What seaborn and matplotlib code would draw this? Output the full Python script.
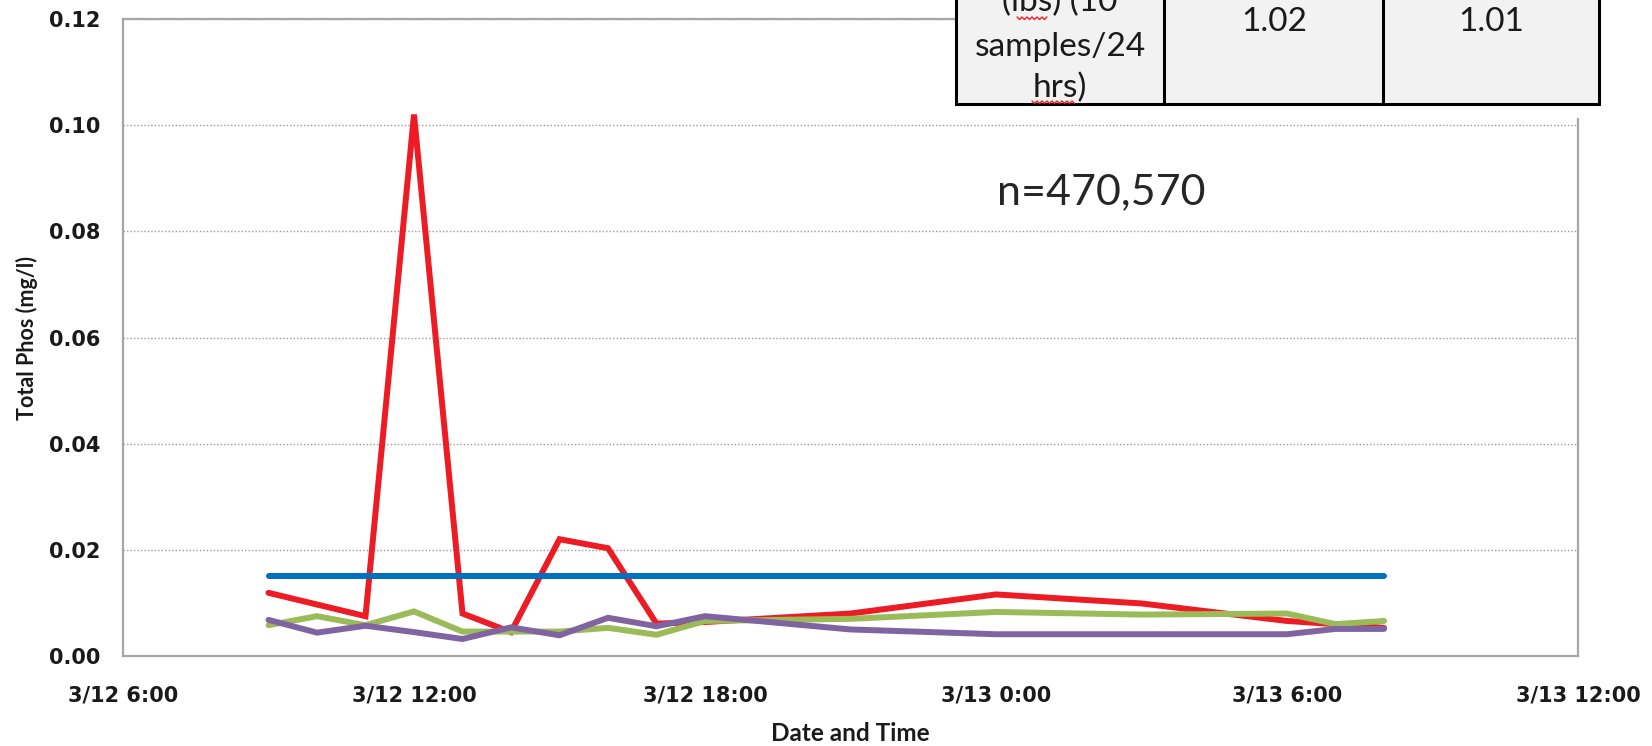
import numpy as np
import pandas as pd
import matplotlib
matplotlib.use("Agg")
import matplotlib.pyplot as plt
import matplotlib.dates as mdates
import matplotlib.patches as mpatches
from matplotlib.ticker import FuncFormatter
import seaborn as sns

# sample times (3/12 9:00 -> 3/13 8:00)
times = ['2013-03-12 09:00', '2013-03-12 10:00', '2013-03-12 11:00', '2013-03-12 12:00',
         '2013-03-12 13:00', '2013-03-12 14:00', '2013-03-12 15:00', '2013-03-12 16:00',
         '2013-03-12 17:00', '2013-03-12 18:00', '2013-03-12 21:00', '2013-03-13 00:00',
         '2013-03-13 03:00', '2013-03-13 06:00', '2013-03-13 07:00', '2013-03-13 08:00']

red_vals = [0.0119, 0.0097, 0.0075, 0.1020, 0.0080, 0.0045, 0.0220, 0.0203,
            0.0061, 0.0064, 0.0080, 0.0116, 0.0099, 0.0066, 0.0060, 0.0053]
green_vals = [0.0058, 0.0075, 0.0058, 0.0084, 0.0046, 0.0046, 0.0046, 0.0053,
              0.0040, 0.0066, 0.0070, 0.0083, 0.0078, 0.0080, 0.0060, 0.0066]
purple_vals = [0.0068, 0.0044, 0.0057, 0.0045, 0.0032, 0.0054, 0.0039, 0.0072,
               0.0056, 0.0075, 0.0050, 0.0041, 0.0041, 0.0041, 0.0051, 0.0051]
limit_vals = [0.015, 0.015, 0.015, 0.015, 0.015, 0.015, 0.015, 0.015,
              0.015, 0.015, 0.015, 0.015, 0.015, 0.015, 0.015, 0.015]

series_names = ['Red', 'Green', 'Purple', 'Limit']
series_colors = {'Red': '#ED1C24', 'Green': '#9BBB59', 'Purple': '#8064A2', 'Limit': '#0070C0'}

table_col1 = ['(lbs) (10', 'samples/24', 'hrs)']
table_vals = ['1.02', '1.01']
n_text = 'n=470,570'

dataDic = {'time': [], 'value': [], 'series': []}
for name, vals in zip(series_names, [red_vals, green_vals, purple_vals, limit_vals]):
    for t, v in zip(times, vals):
        dataDic['time'].append(pd.Timestamp(t))
        dataDic['value'].append(v)
        dataDic['series'].append(name)
df = pd.DataFrame(dataDic)

sns.set_style('white')
W, H = 1652, 746
fig = plt.figure(figsize=(W / 100, H / 100), dpi=100)
ax = fig.add_axes([123 / W, 1 - 656 / H, (1578 - 123) / W, (656 - 19) / H])

sns.lineplot(data=df, x='time', y='value', hue='series', hue_order=series_names,
             palette=series_colors, linewidth=4.3, ax=ax, legend=False,
             solid_capstyle='round', solid_joinstyle='miter')

ax.set_xlim(pd.Timestamp('2013-03-12 06:00'), pd.Timestamp('2013-03-13 12:00'))
ax.set_ylim(0, 0.12)
ax.set_yticks([0, 0.02, 0.04, 0.06, 0.08, 0.10, 0.12])
ax.yaxis.set_major_formatter(FuncFormatter(lambda v, p: '{:.2f}'.format(v)))
ax.xaxis.set_major_locator(mdates.HourLocator(byhour=[0, 6, 12, 18]))


def fmtDate(x, pos):
    d = mdates.num2date(x)
    return '{}/{} {}:{:02d}'.format(d.month, d.day, d.hour, d.minute)


ax.xaxis.set_major_formatter(FuncFormatter(fmtDate))

ax.grid(False)
ax.yaxis.grid(True, linestyle=(0, (1, 1.5)), color='#9a9a9a', linewidth=1.0)
for s in ax.spines.values():
    s.set_color('#a6a6a6')
    s.set_linewidth(1.6)

ax.tick_params(axis='both', which='both', direction='out', color='#a6a6a6', width=1.3,
               labelsize=15, labelcolor='#1a1a1a')
ax.tick_params(axis='x', length=7, pad=14)
ax.tick_params(axis='y', length=6, pad=10)
for lab in ax.get_xticklabels() + ax.get_yticklabels():
    lab.set_fontweight('heavy')
    lab.set_family('DejaVu Sans')

ax.set_xlabel('Date and Time', fontsize=17.5, fontweight='bold', family='Lato', color='#1a1a1a', labelpad=12)
ax.set_ylabel('Total Phos (mg/l)', fontsize=15.5, fontweight='bold', family='Lato', color='#1a1a1a', labelpad=8)

ax.text(0.672, 0.728, n_text, transform=ax.transAxes, fontsize=31, family='Lato',
        color='#262626', ha='center', va='center')

# overlay for the table in the top right (pixel coords)
tax = fig.add_axes([0, 0, 1, 1])
tax.set_xlim(0, W)
tax.set_ylim(H, 0)
tax.axis('off')
tax.add_patch(mpatches.Rectangle((955, -5), W - 955, 123, facecolor='white', edgecolor='none'))
tax.add_patch(mpatches.Rectangle((956, -10), 643, 114, facecolor='#F2F2F2', edgecolor='black', linewidth=2.2))
for xc in [1164, 1383]:
    tax.plot([xc, xc], [-10, 104], color='black', linewidth=2.2)

for txt, yb in zip(table_col1, [11, 56, 97]):
    tax.text(1060, yb, txt, fontsize=24, family='Lato', color='#1a1a1a', ha='center', va='baseline')
for txt, xc in zip(table_vals, [1274, 1491]):
    tax.text(xc, 31, txt, fontsize=24, family='Lato', color='#1a1a1a', ha='center', va='baseline')

# spell-check squiggles under "lbs" and "hrs"
for x0, x1, yy in [(1017, 1048, 17), (1032, 1075, 101)]:
    xs = np.arange(x0, x1 + 1, 2.5)
    ys = yy + np.where(np.arange(len(xs)) % 2 == 0, 0, 2.5)
    tax.plot(xs, ys, color='#ED1C24', linewidth=1.0)

fig.savefig('out.png', dpi=100)
